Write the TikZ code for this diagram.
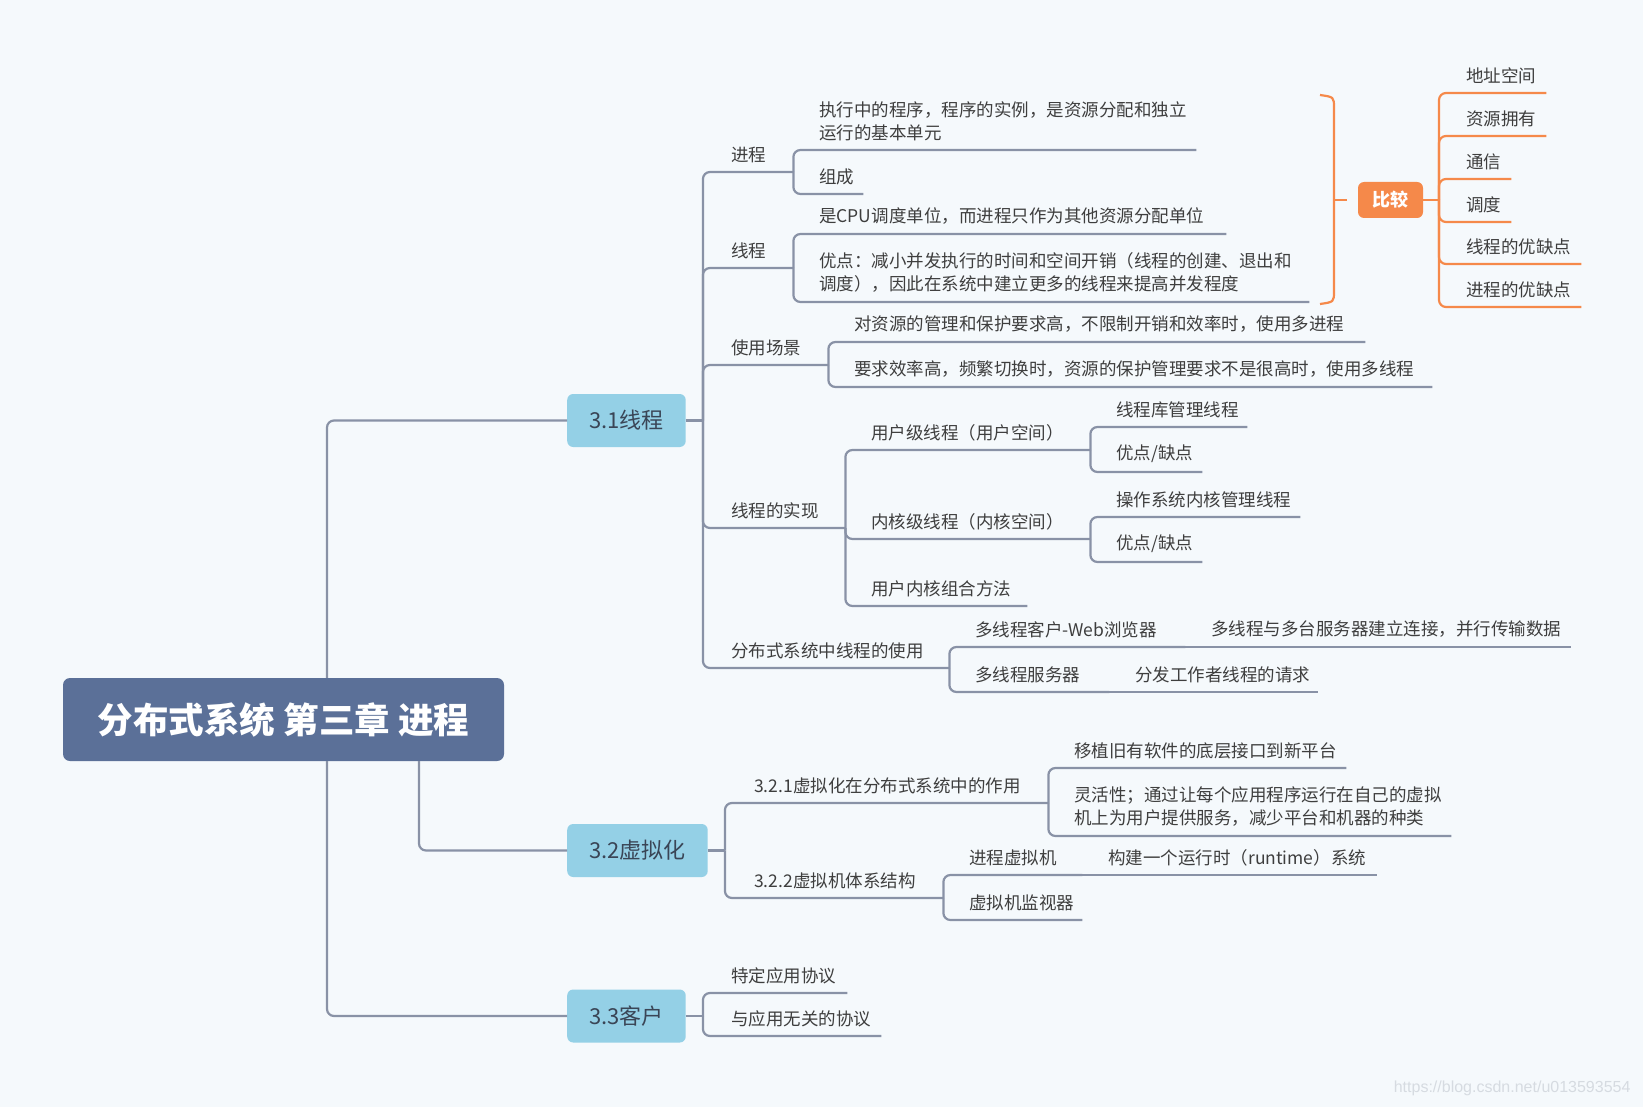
\documentclass[tikz,border=0pt]{standalone}
\usepackage{fontspec}
\setmainfont{Noto Sans CJK SC}
\newfontfamily\wmfont{Liberation Sans}
\usepackage{tikz}

\definecolor{bg}{RGB}{245,249,252}
\definecolor{rootblue}{RGB}{91,112,152}
\definecolor{subblue}{RGB}{148,208,230}
\definecolor{subtxt}{RGB}{58,69,86}
\definecolor{txt}{RGB}{62,62,62}
\definecolor{linegray}{RGB}{137,146,166}
\definecolor{cmporange}{RGB}{245,137,74}
\definecolor{wmgray}{RGB}{214,219,225}

\begin{document}
\begin{tikzpicture}[x=1pt, y=-1pt,
		conn/.style={draw=linegray, line width=2.2pt, rounded corners=7pt},
		oconn/.style={draw=cmporange, line width=2.2pt, rounded corners=7pt},
		topic/.style={anchor=south west, inner xsep=0pt, inner ysep=9pt, align=left,
			text=txt, font=\fontsize{17.5}{23}\selectfont},
		rootbox/.style={fill=rootblue, rounded corners=7pt, minimum width=441pt,
			minimum height=83pt, text=white, font=\fontsize{35.5}{40}\selectfont\bfseries},
		subbox/.style={anchor=west, fill=subblue, rounded corners=6pt, inner xsep=22pt,
			minimum height=53pt, text=subtxt, font=\fontsize{22}{26}\selectfont},
		cmpbox/.style={fill=cmporange, rounded corners=6pt, minimum width=65pt,
			minimum height=36pt, text=white, font=\fontsize{18}{20}\selectfont\bfseries}]
		\fill[bg] (0, 0) rectangle (1643, 1107);
		% Root and the three sections.
		\node[rootbox] (root) at (283.5, 719.5) {分布式系统 第三章 进程};
		\node[subbox] (n31) at (567, 420.5) {3.1线程};
		\node[subbox] (n32) at (567, 850.5) {3.2虚拟化};
		\node[subbox] (n33) at (567, 1016) {3.3客户};
		\draw[conn] ([xshift=43.5pt]root.north) |- (n31.west);
		\draw[conn] ([xshift=43.5pt]root.south) |- (n33.west);
		\draw[conn] ([xshift=135.5pt]root.south) |- (n32.west);
		% 3.1 threads.
		\node[topic, text width=62pt] (jc) at (731, 172) {进程};
		\node[topic, text width=62pt] (xc) at (731, 268) {线程};
		\node[topic, text width=97pt] (cj) at (731, 365) {使用场景};
		\node[topic, text width=114pt] (sx) at (731, 528) {线程的实现};
		\node[topic, text width=218pt] (fb) at (731, 668) {分布式系统中线程的使用};
		\coordinate (s31) at ([xshift=17pt]n31.east);
		\draw[conn] (n31.east) -- (s31);
		\foreach \c in {jc, xc, cj, sx, fb} {
			\draw[conn] (s31) |- (\c.south east);
		}
		\node[topic, text width=377pt] (jc1) at (819, 150)
			{执行中的程序，程序的实例，是资源分配和独立\\运行的基本单元};
		\node[topic, text width=44pt] (jc2) at (819, 194) {组成};
		\node[topic, text width=407pt] (xc1) at (819, 234)
			{是CPU调度单位，而进程只作为其他资源分配单位};
		\node[topic, text width=490pt] (xc2) at (819, 302)
			{优点：减小并发执行的时间和空间开销（线程的创建、退出和\\调度），因此在系统中建立更多的线程来提高并发程度};
		\node[topic, text width=511pt] (cj1) at (854, 342)
			{对资源的管理和保护要求高，不限制开销和效率时，使用多进程};
		\node[topic, text width=578pt] (cj2) at (854, 387)
			{要求效率高，频繁切换时，资源的保护管理要求不是很高时，使用多线程};
		\node[topic, text width=219pt] (sx1) at (871, 450) {用户级线程（用户空间）};
		\node[topic, text width=219pt] (sx2) at (871, 539) {内核级线程（内核空间）};
		\node[topic, text width=156pt] (sx3) at (871, 606) {用户内核组合方法};
		\node[topic, text width=131pt] (sx11) at (1116, 427) {线程库管理线程};
		\node[topic, text width=86pt] (sx12) at (1116, 472) {优点/缺点};
		\node[topic, text width=184pt] (sx21) at (1116, 517) {操作系统内核管理线程};
		\node[topic, text width=86pt] (sx22) at (1116, 562) {优点/缺点};
		\node[topic, text width=210pt] (fb1) at (975, 647) {多线程客户-Web浏览器};
		\node[topic, text width=134pt] (fb2) at (975, 692) {多线程服务器};
		\node[topic, text width=360pt] (fb11) at (1211, 647) {多线程与多台服务器建立连接，并行传输数据};
		\node[topic, text width=183pt] (fb21) at (1135, 692) {分发工作者线程的请求};
		\foreach \p/\c in {jc/jc1, jc/jc2, xc/xc1, xc/xc2, cj/cj1, cj/cj2, sx/sx1, sx/sx2,
				sx/sx3, sx1/sx11, sx1/sx12, sx2/sx21, sx2/sx22, fb/fb1, fb/fb2} {
			\draw[conn] (\p.south east) |- (\c.south east);
		}
		% single children continue the same line
		\foreach \p/\c in {fb1/fb11, fb2/fb21} {
			\draw[conn] (\p.south east) -- (\c.south east);
		}
		% Comparison of processes and threads.
		\draw[oconn] (1320, 95) .. controls (1334, 97) .. (1334, 115) -- (1334, 284)
			.. controls (1334, 302) .. (1320, 304);
		\coordinate (brtip) at (1347, 200);
		\draw[oconn] (1334, 200) -- (brtip);
		\node[cmpbox] (cmp) at (1390.5, 200) {比较};
		\node[topic, text width=80pt] (cmp1) at (1466, 93) {地址空间};
		\node[topic, text width=80pt] (cmp2) at (1466, 136) {资源拥有};
		\node[topic, text width=45pt] (cmp3) at (1466, 179) {通信};
		\node[topic, text width=45pt] (cmp4) at (1466, 222) {调度};
		\node[topic, text width=115pt] (cmp5) at (1466, 264) {线程的优缺点};
		\node[topic, text width=115pt] (cmp6) at (1466, 307) {进程的优缺点};
		\coordinate (scmp) at (1439, 200);
		\draw[oconn] (cmp.east) -- (scmp);
		\foreach \k in {1, ..., 6} {
			\draw[oconn] (scmp) |- (cmp\k.south east);
		}
		% 3.2 virtualisation.
		\node[topic, text width=294pt] (v1) at (754, 803) {3.2.1虚拟化在分布式系统中的作用};
		\node[topic, text width=189pt] (v2) at (754, 898) {3.2.2虚拟机体系结构};
		\node[topic, text width=272pt] (v11) at (1074, 768) {移植旧有软件的底层接口到新平台};
		\node[topic, text width=377pt] (v12) at (1074, 836)
			{灵活性；通过让每个应用程序运行在自己的虚拟\\机上为用户提供服务，减少平台和机器的种类};
		\node[topic, text width=113pt] (v21) at (969, 875) {进程虚拟机};
		\node[topic, text width=113pt] (v22) at (969, 920) {虚拟机监视器};
		\node[topic, text width=269pt] (v211) at (1108, 875) {构建一个运行时（runtime）系统};
		\coordinate (s32) at ([xshift=17pt]n32.east);
		\draw[conn] (n32.east) -- (s32);
		\foreach \c in {v1, v2} {
			\draw[conn] (s32) |- (\c.south east);
		}
		\foreach \p/\c in {v1/v11, v1/v12, v2/v21, v2/v22} {
			\draw[conn] (\p.south east) |- (\c.south east);
		}
		\draw[conn] (v21.south east) -- (v211.south east);
		% 3.3 clients.
		\node[topic, text width=116pt] (k1) at (731, 993) {特定应用协议};
		\node[topic, text width=150pt] (k2) at (731, 1036) {与应用无关的协议};
		\coordinate (s33) at ([xshift=17pt]n33.east);
		\draw[conn] (n33.east) -- (s33);
		\foreach \c in {k1, k2} {
			\draw[conn] (s33) |- (\c.south east);
		}
		\node[anchor=east, text=wmgray, font=\wmfont\fontsize{16}{18}\selectfont] (wm)
			at (1634, 1088) {https://blog.csdn.net/u013593554};
	\end{tikzpicture}
\end{document}
